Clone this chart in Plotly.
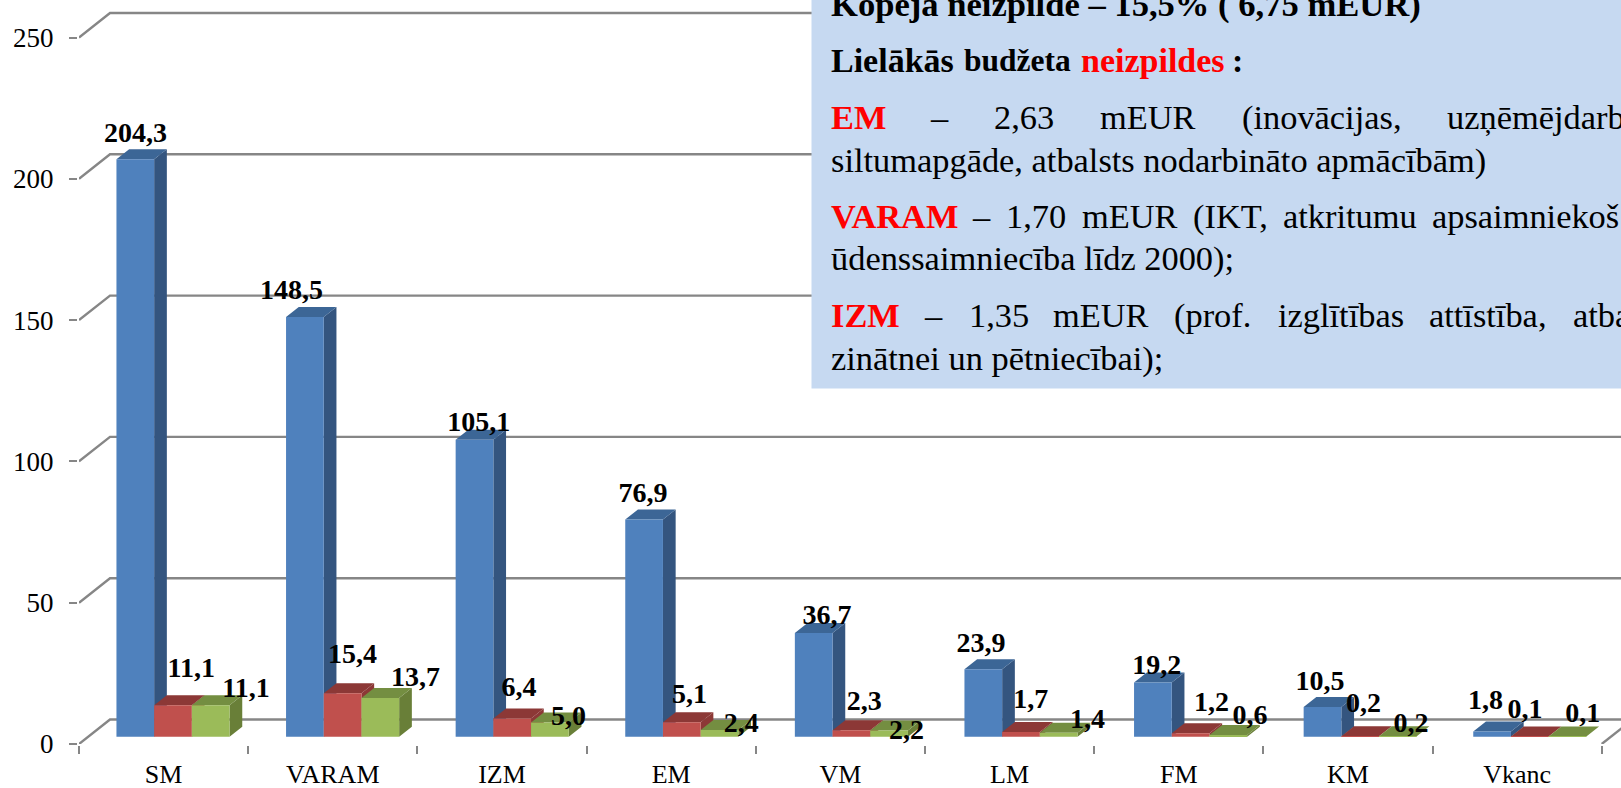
import plotly.graph_objects as go

categories = ["SM", "VARAM", "IZM", "EM", "VM", "LM", "FM", "KM", "Vkanc"]
series_a = [204.3, 148.5, 105.1, 76.9, 36.7, 23.9, 19.2, 10.5, 1.8]
series_b = [11.1, 15.4, 6.4, 5.1, 2.3, 1.7, 1.2, 0.2, 0.1]
series_c = [11.1, 13.7, 5.0, 2.4, 2.2, 1.4, 0.6, 0.2, 0.1]
y_ticks = [0, 50, 100, 150, 200, 250]

# chart geometry, in pixels of the 1621x788 page
LEFT, FLOOR = 79.0, 744.0
CAT_PX, UNIT_PX = 169.19, 2.826
BACK_DX, BACK_DY = 31.0, 24.5
BAR_W, BAR_PITCH, BAR_START = 37.7, 169.6, 135.3
BAR_BASE_PX = 7.3
BAR_DX, BAR_DY = 12.7, 10.0
GRAY = "#868686"
SERIF = "Liberation Serif"
W, H = 1621, 788


def xd(px):
    return (px - LEFT) / CAT_PX


def yd(py):
    return (FLOOR - py) / UNIT_PX


ddx, ddy = BACK_DX / CAT_PX, BACK_DY / UNIT_PX
bw, bdx, bdy = BAR_W / CAT_PX, BAR_DX / CAT_PX, BAR_DY / UNIT_PX
base = BAR_BASE_PX / UNIT_PX
x_max, y_max = xd(W), yd(0)

fig = go.Figure()

# back wall and floor lines
gx, gy = [], []
for t in y_ticks:
    gx += [0, ddx, x_max + 1, None]
    gy += [t, t + ddy, t + ddy, None]
gx += [9, 9 + ddx, None]
gy += [0, ddy, None]
fig.add_trace(go.Scatter(x=gx, y=gy, mode="lines", line=dict(color=GRAY, width=2.4),
                         hoverinfo="skip", zorder=0, cliponaxis=True))

palette = [
    ("#4F81BD", "#34557F", "#3C6696"),
    ("#C0504D", "#8C3836", "#8C3836"),
    ("#9BBB59", "#697F38", "#748E41"),
]
all_series = [series_a, series_b, series_c]
for s, values in enumerate(all_series):
    front, side, top = palette[s]
    centers = [xd(BAR_START + BAR_PITCH * i + BAR_W * s) for i in range(len(values))]
    sx, sy, tx, ty = [], [], [], []
    for c, v in zip(centers, values):
        x0, x1, up = c - bw / 2, c + bw / 2, base + v
        sx += [x1, x1 + bdx, x1 + bdx, x1, x1, None]
        sy += [base, base + bdy, up + bdy, up, base, None]
        tx += [x0, x1, x1 + bdx, x0 + bdx, x0, None]
        ty += [up, up, up + bdy, up + bdy, up, None]
    z = 1 + 3 * s
    fig.add_trace(go.Scatter(x=sx, y=sy, mode="lines", fill="toself", fillcolor=side,
                             line=dict(width=0, color=side), hoverinfo="skip", zorder=z))
    fig.add_trace(go.Scatter(x=tx, y=ty, mode="lines", fill="toself", fillcolor=top,
                             line=dict(width=0, color=top), hoverinfo="skip", zorder=z))
    fig.add_trace(go.Bar(x=centers, y=values, base=base, width=bw, marker=dict(color=front, line=dict(width=0)),
                         hoverinfo="skip", zorder=z + 1))

# data label offsets from the top centre of each bar's front face, in pixels
label_dx = [
    [0.1, -13.4, 4.2, -1.1, 13.3, -2.3, 3.9, -2.5, -6.5],
    [18.3, 9.9, 6.8, 7.7, 12.9, 9.7, 21, 3.4, -4.9],
    [35.3, 35.3, 18.7, 21.7, 17.5, 28.9, 21.6, 13.2, 15.3],
]
label_dy = [
    [-24, -24.7, -16, -24.4, -16, -24, -15.8, -23.7, -29.7],
    [-35.5, -36.8, -30.1, -26.6, -27.3, -31, -29.3, -31.1, -25.2],
    [-15.8, -18.9, -4.2, -5.3, 1.4, -12.2, -17.6, -11.5, -21.1],
]
lab_x, lab_y, lab_t = [], [], []
for s, values in enumerate(all_series):
    for i, v in enumerate(values):
        cx = BAR_START + BAR_PITCH * i + BAR_W * s
        lab_x.append(xd(cx + label_dx[s][i]))
        lab_y.append(base + v - label_dy[s][i] / UNIT_PX)
        lab_t.append(f"{v:.1f}".replace(".", ","))
fig.add_trace(go.Scatter(x=lab_x, y=lab_y, text=lab_t, mode="text", textposition="middle center",
                         textfont=dict(family=SERIF, size=28, color="black", weight="bold"),
                         hoverinfo="skip", zorder=9, cliponaxis=False))

# text box
fig.add_shape(type="rect", xref="x", yref="y", layer="above", x0=xd(811.5), x1=x_max + 1, y0=yd(388.5), y1=y_max + 5,
              fillcolor="#C6D9F1", line=dict(width=0))

RED = "#FF0000"
BODY = 34.4
text_lines = [
    (4, 34.6, [("<b>Kopējā neizpilde – 15,5% ( 6,75 mEUR)</b>", 831)]),
    (60, 34, [("<b>Lielākās</b>", 831), ("<b>budžeta</b>", 964, 31.5),
              (f"<b><span style='color:{RED}'>neizpildes</span></b>", 1080.5), ("<b>:</b>", 1232)]),
    (117, BODY, [(f"<b><span style='color:{RED}'>EM</span></b>", 831), ("–", 930.4), ("2,63", 994), ("mEUR", 1100),
                 ("(inovācijas,", 1241.5), ("uzņēmējdarb", 1447)]),
    (160, BODY, [("siltumapgāde, atbalsts nodarbināto apmācībām)", 831)]),
    (216, BODY, [(f"<b><span style='color:{RED}'>VARAM</span></b>", 831), ("–", 971.8), ("1,70", 1006), ("mEUR", 1081.5),
                 ("(IKT,", 1192.7), ("atkritumu", 1282.8), ("apsaimniekoš", 1432.3)]),
    (258, BODY, [("ūdenssaimniecība līdz 2000);", 831)]),
    (315, BODY, [(f"<b><span style='color:{RED}'>IZM</span></b>", 831), ("–", 923.5), ("1,35", 968.6), ("mEUR", 1053),
                 ("(prof.", 1174), ("izglītības", 1277.5), ("attīstība,", 1428.6), ("atba", 1573)]),
    (358, BODY, [("zinātnei un pētniecībai);", 831)]),
]
for py, size, words in text_lines:
    for item in words:
        word, px = item[0], item[1]
        fs = item[2] if len(item) > 2 else size
        fig.add_annotation(x=xd(px), y=yd(py), xref="x", yref="y", text=word, showarrow=False,
                           xanchor="left", yanchor="middle", borderpad=0, borderwidth=0,
                           font=dict(family=SERIF, size=fs, color="black"))

fig.update_layout(
    width=W, height=H, margin=dict(l=LEFT, r=0, t=0, b=H - FLOOR, pad=0, autoexpand=False),
    paper_bgcolor="white", plot_bgcolor="white", showlegend=False, barmode="overlay", hovermode=False,
    font=dict(family=SERIF),
    xaxis=dict(range=[0, x_max], tickmode="array", tickvals=[i + 0.5 for i in range(len(categories))],
               ticktext=categories, ticks="", showgrid=False, zeroline=False, showline=True, linecolor=GRAY,
               linewidth=2.4, tickfont=dict(family=SERIF, size=26, color="black"), ticklabelstandoff=6,
               minor=dict(tickmode="array", tickvals=list(range(len(categories) + 1)), ticks="outside",
                          ticklen=8, tickwidth=2.4, tickcolor=GRAY, showgrid=False)),
    yaxis=dict(range=[0, y_max], tickmode="array", tickvals=y_ticks, ticks="outside", ticklen=8, tickwidth=2.4,
               tickcolor=GRAY, showgrid=False, zeroline=False, showline=True, linecolor=GRAY, linewidth=2.4,
               tickfont=dict(family=SERIF, size=27, color="black"), ticklabelstandoff=10),
)

fig.write_html("out.html", config={"displayModeBar": False},
               post_script="document.body.style.margin='0';document.body.style.overflow='hidden';")
